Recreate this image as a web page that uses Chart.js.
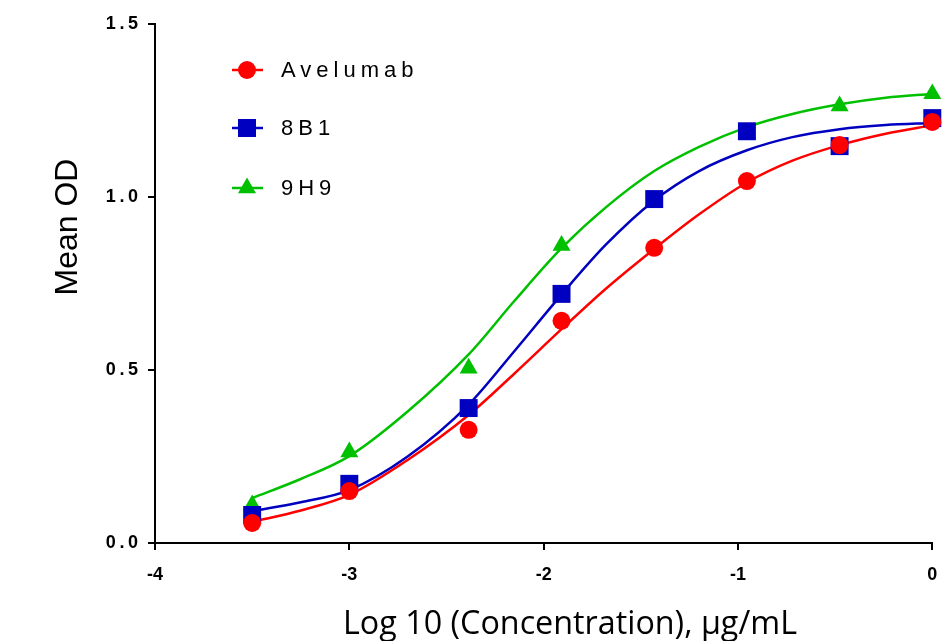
<!DOCTYPE html>
<html>
<head>
<meta charset="utf-8">
<script src="https://cdn.jsdelivr.net/npm/chart.js@4/dist/chart.umd.min.js"></script>
<style>
html,body{margin:0;padding:0;background:#fff;}
#wrap{width:945px;height:641px;position:relative;}
</style>
</head>
<body>
<div id="wrap"><canvas id="c" width="945" height="641"></canvas></div>
<script>
// ---- data ----
const seriesNames = ['Avelumab', '8B1', '9H9'];
const seriesColors = ['#FF0000', '#0000C0', '#00C000'];
const seriesMarkers = ['circle', 'rect', 'triangle'];

// measured points: log10 concentration (µg/mL) vs mean OD
const logConc = [-3.5, -3.0, -2.386, -1.908, -1.431, -0.954, -0.477, 0];
const odAvelumab = [0.058, 0.150, 0.327, 0.642, 0.853, 1.046, 1.150, 1.217];
const od8B1      = [0.081, 0.171, 0.390, 0.720, 0.994, 1.190, 1.147, 1.228];
const od9H9      = [0.110, 0.263, 0.505, 0.860, 0.990, 1.186, 1.263, 1.298];

// fitted curves at these x positions
const fitX = [-3.5, -3.25, -3.0, -2.7, -2.386, -2.15, -1.908, -1.68, -1.431, -1.2, -0.954, -0.72, -0.477, -0.24, 0];
const fitAvelumab = [0.061, 0.094, 0.139, 0.240, 0.370, 0.490, 0.618, 0.735, 0.850, 0.950, 1.042, 1.105, 1.150, 1.183, 1.207];
const fit8B1      = [0.092, 0.118, 0.153, 0.250, 0.400, 0.555, 0.718, 0.862, 0.990, 1.075, 1.135, 1.173, 1.196, 1.208, 1.214];
const fit9H9      = [0.130, 0.185, 0.251, 0.380, 0.545, 0.700, 0.852, 0.970, 1.075, 1.145, 1.202, 1.240, 1.268, 1.287, 1.298];

const yTicksLabelFmt = v => v.toFixed(1).split('').join('\u2009');

const pointSets = [odAvelumab, od8B1, od9H9];
const fitSets = [fitAvelumab, fit8B1, fit9H9];
const markerRadius = [9, 12.7, 10.4];

const toXY = (xs, ys) => xs.map((x, i) => ({x: x, y: ys[i]}));

const datasets = [];
pointSets.forEach((ys, i) => {
  datasets.push({
    label: seriesNames[i],
    data: toXY(logConc, ys),
    showLine: false,
    pointStyle: seriesMarkers[i],
    pointRadius: markerRadius[i],
    pointHoverRadius: markerRadius[i],
    backgroundColor: seriesColors[i],
    borderColor: seriesColors[i],
    pointBorderWidth: 0,
    clip: false
  });
});
fitSets.forEach((ys, i) => {
  datasets.push({
    label: seriesNames[i] + ' fit',
    data: toXY(fitX, ys),
    showLine: true,
    pointRadius: 0,
    borderColor: seriesColors[i],
    backgroundColor: seriesColors[i],
    borderWidth: 2.5,
    cubicInterpolationMode: 'monotone',
    fill: false,
    clip: false
  });
});

const overlay = {
  id: 'overlay',
  afterDraw(chart) {
    const ctx = chart.ctx;
    ctx.save();
    // legend
    const rows = [70, 128, 188];
    seriesNames.forEach((name, i) => {
      const y = rows[i];
      const c = seriesColors[i];
      ctx.strokeStyle = c; ctx.fillStyle = c; ctx.lineWidth = 2.5;
      ctx.beginPath(); ctx.moveTo(232, y); ctx.lineTo(263, y); ctx.stroke();
      const cx = 247, r = markerRadius[i];
      ctx.beginPath();
      if (seriesMarkers[i] === 'circle') {
        ctx.arc(cx, y, r, 0, Math.PI * 2);
      } else if (seriesMarkers[i] === 'rect') {
        const s = r * Math.SQRT1_2;
        ctx.rect(cx - s, y - s, 2 * s, 2 * s);
      } else {
        let a = 0;
        ctx.moveTo(cx + Math.sin(a) * r, y - Math.cos(a) * r);
        a += 2 * Math.PI / 3;
        ctx.lineTo(cx + Math.sin(a) * r, y - Math.cos(a) * r);
        a += 2 * Math.PI / 3;
        ctx.lineTo(cx + Math.sin(a) * r, y - Math.cos(a) * r);
        ctx.closePath();
      }
      ctx.fill();
      ctx.fillStyle = '#000';
      ctx.font = '22px "Liberation Sans", Arial, sans-serif';
      ctx.letterSpacing = '5px';
      ctx.textBaseline = 'middle';
      ctx.textAlign = 'left';
      ctx.fillText(name, 281, y + 1);
      ctx.letterSpacing = '0px';
    });
    // y axis title
    ctx.fillStyle = '#000';
    ctx.font = '32px "Liberation Sans", Arial, sans-serif';
    ctx.textAlign = 'center';
    ctx.textBaseline = 'middle';
    ctx.save();
    ctx.translate(68, 227);
    ctx.rotate(-Math.PI / 2);
    ctx.fillText('Mean OD', 0, 0);
    ctx.restore();
    // x axis title
    const xt = 'Log 10 (Concentration), \u03BCg/mL';
    ctx.font = '100px "Open Sans", sans-serif';
    const w = ctx.measureText(xt).width;
    const fs = 100 * 454 / w;
    ctx.font = fs.toFixed(1) + 'px "Open Sans", sans-serif';
    ctx.textAlign = 'left';
    ctx.textBaseline = 'alphabetic';
    ctx.fillText(xt, 343, 634);
    ctx.restore();
  }
};

new Chart(document.getElementById('c'), {
  type: 'scatter',
  data: { datasets: datasets },
  plugins: [overlay],
  options: {
    responsive: false,
    animation: false,
    events: [],
    layout: { padding: { top: 24, right: 9, left: 0, bottom: 0 } },
    plugins: { legend: { display: false }, tooltip: { enabled: false } },
    scales: {
      x: {
        type: 'linear',
        min: -4, max: 0,
        afterFit(s) { s.height = 98; s.paddingRight = 0; s.paddingLeft = 0; },
        grid: { drawOnChartArea: false, drawTicks: true, tickLength: 7, color: '#000', lineWidth: 2 },
        border: { color: '#000', width: 2 },
        ticks: {
          stepSize: 1, padding: 14,
          color: '#000',
          font: { family: '"Liberation Sans", Arial, sans-serif', size: 18, weight: 'bold' },
          callback: v => String(v)
        }
      },
      y: {
        min: 0, max: 1.5,
        afterFit(s) { s.width = 155; s.paddingTop = 0; s.paddingBottom = 0; },
        grid: { drawOnChartArea: false, drawTicks: true, tickLength: 7, color: '#000', lineWidth: 2 },
        border: { color: '#000', width: 2 },
        ticks: {
          stepSize: 0.5, padding: 10,
          color: '#000',
          font: { family: '"Liberation Sans", Arial, sans-serif', size: 18, weight: 'bold' },
          callback: v => yTicksLabelFmt(v)
        }
      }
    }
  }
});
</script>
</body>
</html>
